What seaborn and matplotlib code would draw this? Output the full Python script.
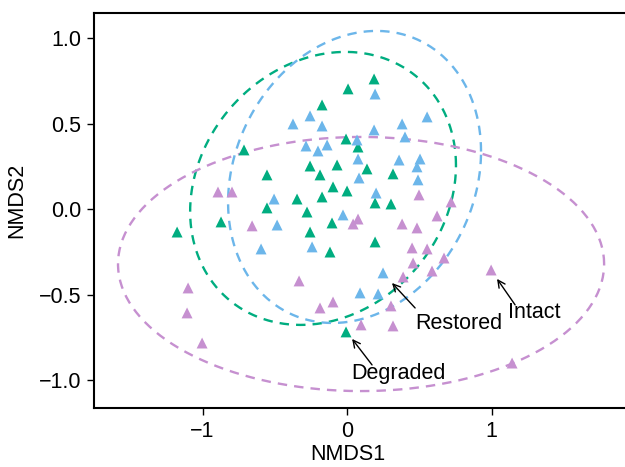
import numpy as np
import pandas as pd
import seaborn as sns
import matplotlib.pyplot as plt

# ========= data =========
degraded_x = [0.007, -0.173, 0.187, -0.713, -0.007, 0.076, -0.256, -0.069, 0.138,
              -0.554, -0.187, 0.318, -0.097, 0.000, -0.173, -0.346, 0.194, 0.304,
              -0.554, -0.277, -0.872, -0.104, -1.176, -0.256, 0.194, -0.118, -0.007]
degraded_y = [0.705, 0.611, 0.763, 0.348, 0.412, 0.365, 0.254, 0.260, 0.237,
              0.202, 0.202, 0.208, 0.132, 0.108, 0.073, 0.061, 0.038, 0.032,
              0.009, -0.015, -0.073, -0.079, -0.132, -0.132, -0.190, -0.249, -0.716]

restored_x = [0.194, -0.256, -0.374, -0.173, 0.554, 0.381, 0.187, 0.401, -0.284,
              -0.201, -0.138, 0.069, 0.076, 0.360, 0.505, 0.484, 0.083, 0.491,
              0.201, -0.505, -0.028, -0.484, -0.595, -0.242, 0.249, 0.090, 0.215]
restored_y = [0.675, 0.547, 0.500, 0.488, 0.541, 0.500, 0.465, 0.424, 0.371,
              0.342, 0.377, 0.406, 0.295, 0.289, 0.295, 0.249, 0.184, 0.173,
              0.096, 0.061, -0.032, -0.091, -0.231, -0.219, -0.371, -0.488, -0.494]

intact_x = [-0.893, -0.796, -0.657, 0.498, 0.720, 0.076, 0.042, 0.381, 0.623,
            0.484, 0.450, 0.554, 0.671, 0.457, 0.588, 0.997, 0.388, -0.332,
            -1.100, -1.107, -0.097, -0.187, 0.304, 0.097, 0.318, -1.003, 1.142]
intact_y = [0.102, 0.102, -0.096, 0.085, 0.044, -0.056, -0.085, -0.085, -0.038,
            -0.108, -0.225, -0.231, -0.284, -0.313, -0.360, -0.354, -0.395, -0.418,
            -0.459, -0.605, -0.541, -0.576, -0.564, -0.675, -0.681, -0.781, -0.898]

groups = ["Degraded", "Restored", "Intact"]
colors = {"Degraded": "#00AD80", "Restored": "#6CB6EA", "Intact": "#C690D0"}

# ellipse centre and shape matrix [[sxx, sxy], [sxy, syy]] per group
ell_center = {"Degraded": (-0.166, 0.123), "Restored": (0.052, 0.190), "Intact": (0.097, -0.319)}
ell_shape = {"Degraded": (0.846, 0.124, 0.637),
             "Restored": (0.766, 0.130, 0.729),
             "Intact": (2.829, 0.0, 0.552)}

# labels: text position, arrow tail, arrow tip
lab_text = {"Degraded": (0.353, -0.962), "Restored": (0.775, -0.664), "Intact": (1.294, -0.605)}
lab_tail = {"Degraded": (0.173, -0.909), "Restored": (0.471, -0.576), "Intact": (1.163, -0.558)}
lab_tip = {"Degraded": (0.035, -0.757), "Restored": (0.311, -0.430), "Intact": (1.038, -0.406)}
# =================================================

df = pd.DataFrame({
    "NMDS1": degraded_x + restored_x + intact_x,
    "NMDS2": degraded_y + restored_y + intact_y,
    "group": ["Degraded"] * len(degraded_x) + ["Restored"] * len(restored_x) + ["Intact"] * len(intact_x),
})

sns.set_style("white")
plt.rcParams["font.family"] = ["Liberation Sans", "DejaVu Sans"]
plt.rcParams["text.color"] = "black"
plt.rcParams["axes.labelcolor"] = "black"
plt.rcParams["xtick.color"] = "black"
plt.rcParams["ytick.color"] = "black"

fs = 15.5

fig = plt.figure(figsize=(6.25, 4.67), dpi=100)
ax = fig.add_axes([0.1504, 0.1263, 0.8576, 0.846])

sns.scatterplot(data=df, x="NMDS1", y="NMDS2", hue="group", palette=colors,
                marker="^", s=62, linewidth=0, legend=False, ax=ax, zorder=3)

# dispersion ellipses
t = np.linspace(0, 2 * np.pi, 300)
for g in groups:
    sxx, sxy, syy = ell_shape[g]
    L = np.linalg.cholesky(np.array([[sxx, sxy], [sxy, syy]]))
    pts = L @ np.vstack([np.cos(t), np.sin(t)])
    cx, cy = ell_center[g]
    ax.plot(cx + pts[0], cy + pts[1], color=colors[g], lw=1.7, dashes=(4, 3), zorder=2)

# group labels with arrows
for g in groups:
    ax.annotate("", xy=lab_tip[g], xytext=lab_tail[g],
                arrowprops=dict(arrowstyle="->", lw=1, color="black",
                                shrinkA=0, shrinkB=0, mutation_scale=13))
    ax.text(*lab_text[g], g, ha="center", va="center", fontsize=fs, color="black")

ax.set_xlim(-1.751, 1.958)
ax.set_ylim(-1.161, 1.149)
ax.set_xticks([-1, 0, 1])
ax.set_xticklabels(["\u22121", "0", "1"])
ax.set_yticks([1.0, 0.5, 0.0, -0.5, -1.0])
ax.set_yticklabels(["1.0", "0.5", "0.0", "\u22120.5", "\u22121.0"])
ax.tick_params(axis="both", direction="out", length=5, width=1, labelsize=fs,
               left=True, bottom=True, color="black", labelcolor="black", pad=4)
ax.set_xlabel("NMDS1", fontsize=fs, color="black")
ax.set_ylabel("NMDS2", fontsize=fs, color="black")
ax.xaxis.set_label_coords((348 - 94) / 536, -0.09)
ax.yaxis.set_label_coords(-0.125, 0.525)
for sp in ax.spines.values():
    sp.set_color("black")
    sp.set_linewidth(1.5)

fig.savefig("out.png", dpi=100)
